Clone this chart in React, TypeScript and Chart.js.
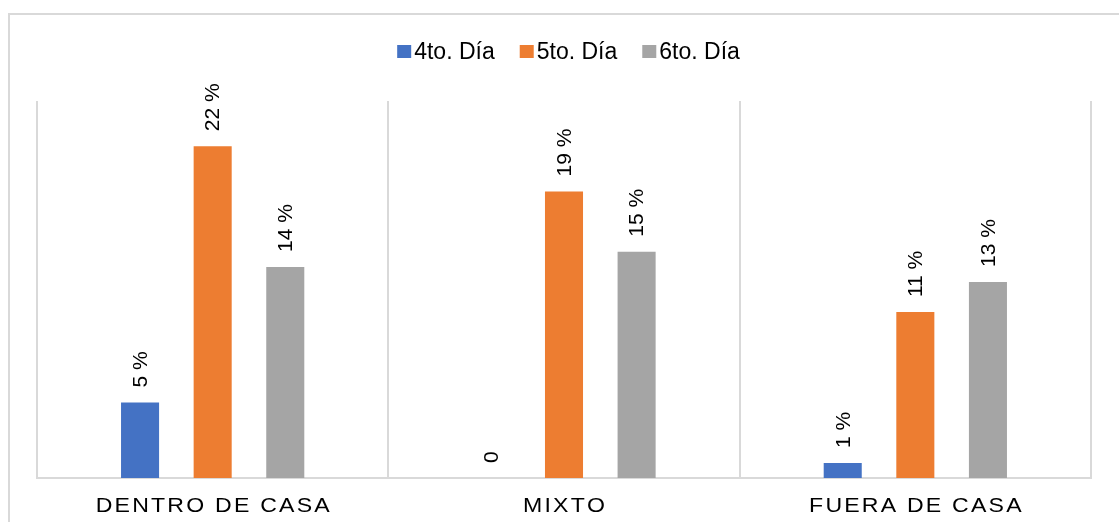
import { useEffect, useRef } from "react";
import { Chart, registerables } from "chart.js";

Chart.register(...registerables);

// Categories and series
const categories = ["DENTRO DE CASA", "MIXTO", "FUERA DE CASA"];
const seriesNames = ["4to. Día", "5to. Día", "6to. Día"];
const dia4 = [5, 0, 1];
const dia5 = [22, 19, 11];
const dia6 = [14, 15, 13];
const seriesValues = [dia4, dia5, dia6];
const seriesColors = ["#4472C4", "#ED7D31", "#A5A5A5"];
const yMax = 25;

const FONT_FAMILY = '"Liberation Sans", Arial, sans-serif';
const FONT_SIZE = 21;
const LEGEND_FONT_SIZE = 23;
const STRETCH = 1.1;
const LINE_COLOR = "#D9D9D9";

function valueLabel(v: number): string {
  return v === 0 ? "0" : `${v} %`;
}

// Draws text with an optional horizontal stretch and letter spacing
function drawText(
  ctx: CanvasRenderingContext2D,
  text: string,
  x: number,
  y: number,
  stretch = STRETCH,
  rotate = 0,
  spacing = 0
) {
  ctx.save();
  ctx.translate(x, y);
  ctx.scale(stretch, 1);
  if (rotate) ctx.rotate(rotate);
  if (spacing) {
    let cx = 0;
    for (const ch of text) {
      ctx.fillText(ch, cx, 0);
      cx += ctx.measureText(ch).width + spacing;
    }
  } else {
    ctx.fillText(text, 0, 0);
  }
  ctx.restore();
}

function spacedWidth(ctx: CanvasRenderingContext2D, text: string, spacing: number) {
  let w = 0;
  const chars = [...text];
  chars.forEach((ch, i) => {
    w += ctx.measureText(ch).width + (i < chars.length - 1 ? spacing : 0);
  });
  return w;
}

const decorPlugin = {
  id: "decor",
  beforeDraw(chart: any) {
    const { ctx } = chart;
    ctx.save();
    ctx.fillStyle = "#FFFFFF";
    ctx.fillRect(0, 0, chart.width, chart.height);
    ctx.strokeStyle = LINE_COLOR;
    ctx.lineWidth = 2;
    ctx.strokeRect(9, 14, chart.width + 20, chart.height + 20);
    ctx.restore();
  },
  afterDraw(chart: any) {
    const { ctx } = chart;
    ctx.save();
    ctx.fillStyle = "#000000";

    // Legend
    ctx.font = `${LEGEND_FONT_SIZE}px ${FONT_FAMILY}`;
    const boxW = 14;
    const boxH = 13;
    const boxGap = 3;
    const itemGap = 25;
    const widths = seriesNames.map((n) => ctx.measureText(n).width);
    const total =
      widths.reduce((a, w) => a + boxW + boxGap + w, 0) + itemGap * (seriesNames.length - 1);
    const centerX = (8 + chart.width + 10) / 2;
    let lx = centerX - total / 2;
    seriesNames.forEach((name, i) => {
      ctx.fillStyle = seriesColors[i];
      ctx.fillRect(lx, 45, boxW, boxH);
      ctx.fillStyle = "#000000";
      ctx.textAlign = "left";
      ctx.textBaseline = "alphabetic";
      drawText(ctx, name, lx + boxW + boxGap, 59, 1);
      lx += boxW + boxGap + widths[i] + itemGap;
    });

    // Category labels
    ctx.font = `${FONT_SIZE}px ${FONT_FAMILY}`;
    const xScale = chart.scales.x;
    const spacing = 2;
    ctx.textAlign = "left";
    ctx.textBaseline = "alphabetic";
    categories.forEach((cat, j) => {
      const cx = xScale.getPixelForValue(j);
      const w = spacedWidth(ctx, cat, spacing) * STRETCH;
      drawText(ctx, cat, cx - w / 2, 512, STRETCH, 0, spacing);
    });

    // Value labels above bars, rotated
    ctx.textAlign = "left";
    ctx.textBaseline = "middle";
    seriesValues.forEach((vals, i) => {
      const meta = chart.getDatasetMeta(i);
      meta.data.forEach((bar: any, j: number) => {
        drawText(ctx, valueLabel(vals[j]), bar.x + 1, bar.y - 15, 1, -Math.PI / 2);
      });
    });
    ctx.restore();
  },
};

export default function App() {
  const canvasRef = useRef<HTMLCanvasElement | null>(null);

  useEffect(() => {
    const canvas = canvasRef.current;
    if (!canvas) return;
    const chart = new Chart(canvas, {
      type: "bar",
      data: {
        labels: categories,
        datasets: seriesNames.map((name, i) => ({
          label: name,
          data: seriesValues[i],
          backgroundColor: seriesColors[i],
          borderWidth: 0,
          categoryPercentage: 0.62,
          barPercentage: 0.524,
        })),
      },
      options: {
        responsive: false,
        animation: false,
        events: [],
        layout: { padding: { left: 37, right: 28, top: 101, bottom: 44 } },
        plugins: {
          legend: { display: false },
          tooltip: { enabled: false },
          title: { display: false },
        },
        scales: {
          x: {
            grid: {
              display: true,
              color: LINE_COLOR,
              lineWidth: 2,
              drawTicks: false,
              offset: true,
            },
            border: { display: true, color: LINE_COLOR, width: 2 },
            ticks: { display: false },
          },
          y: {
            display: false,
            min: 0,
            max: yMax,
          },
        },
      },
      plugins: [decorPlugin],
    });
    return () => chart.destroy();
  }, []);

  return (
    <div style={{ position: "fixed", left: 0, top: 0, width: 1119, height: 522 }}>
      <canvas ref={canvasRef} width={1119} height={522} style={{ display: "block" }} />
    </div>
  );
}
